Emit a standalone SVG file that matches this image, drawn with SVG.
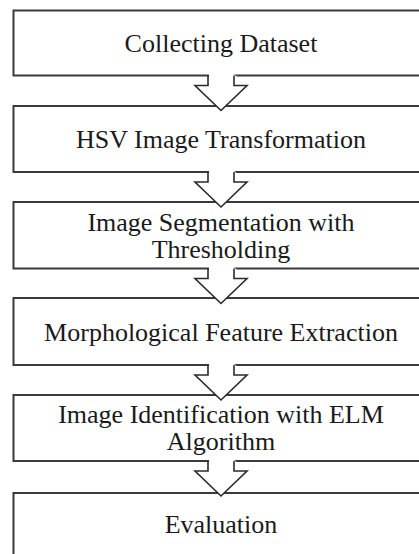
<svg xmlns="http://www.w3.org/2000/svg" width="419" height="554" viewBox="0 0 419 554">
  <defs>
    <style>
      .box { fill: #ffffff; stroke: #3a3a3a; stroke-width: 2; }
      .lbl { font-family: 'Liberation Serif', 'Times New Roman', 'DejaVu Serif', serif; font-size: 26px; fill: #1a1a1a; text-anchor: middle; }
      .arr { fill: none; stroke: #2a2a2a; stroke-width: 1.6; stroke-linejoin: miter; }
      .cover { fill: #ffffff; stroke: none; }
    </style>
  </defs>
  <rect x="0" y="0" width="419" height="554" fill="#ffffff"/>

  <g id="n1">
    <rect class="box" x="13.5" y="10.5" width="430" height="65"/>
    <text class="lbl" font-family="Liberation Serif, serif" x="221" y="52">Collecting Dataset</text>
  </g>
  <g id="n2">
    <rect class="box" x="13.5" y="106" width="430" height="66"/>
    <text class="lbl" font-family="Liberation Serif, serif" x="221" y="148">HSV Image Transformation</text>
  </g>
  <g id="n3">
    <rect class="box" x="13.5" y="202" width="430" height="66.5"/>
    <text class="lbl" font-family="Liberation Serif, serif" x="221" y="231">Image Segmentation with</text>
    <text class="lbl" font-family="Liberation Serif, serif" x="221" y="258">Thresholding</text>
  </g>
  <g id="n4">
    <rect class="box" x="13.5" y="298" width="430" height="67"/>
    <text class="lbl" font-family="Liberation Serif, serif" x="221" y="341">Morphological Feature Extraction</text>
  </g>
  <g id="n5">
    <rect class="box" x="13.5" y="395" width="430" height="66"/>
    <text class="lbl" font-family="Liberation Serif, serif" x="221" y="423">Image Identification with ELM</text>
    <text class="lbl" font-family="Liberation Serif, serif" x="221" y="450">Algorithm</text>
  </g>
  <g id="n6">
    <rect class="box" x="13.5" y="493" width="430" height="80"/>
    <text class="lbl" font-family="Liberation Serif, serif" x="221" y="533">Evaluation</text>
  </g>

  <g id="connectors">
    <g transform="translate(0,75.5)">
      <polygon class="cover" points="209,-2 209,10 195,10 221,35 247,10 233,-2"/>
      <path class="arr" d="M208,0 L208,10 L195,10 L221,35 L247,10 L234,10 L234,0"/>
    </g>
    <g transform="translate(0,172)">
      <polygon class="cover" points="209,-2 209,10 195,10 221,35 247,10 233,-2"/>
      <path class="arr" d="M208,0 L208,10 L195,10 L221,35 L247,10 L234,10 L234,0"/>
    </g>
    <g transform="translate(0,268.5)">
      <polygon class="cover" points="209,-2 209,10 195,10 221,35 247,10 233,-2"/>
      <path class="arr" d="M208,0 L208,10 L195,10 L221,35 L247,10 L234,10 L234,0"/>
    </g>
    <g transform="translate(0,365)">
      <polygon class="cover" points="209,-2 209,10 195,10 221,35 247,10 233,-2"/>
      <path class="arr" d="M208,0 L208,10 L195,10 L221,35 L247,10 L234,10 L234,0"/>
    </g>
    <g transform="translate(0,461)">
      <polygon class="cover" points="209,-2 209,10 195,10 221,35 247,10 233,-2"/>
      <path class="arr" d="M208,0 L208,10 L195,10 L221,35 L247,10 L234,10 L234,0"/>
    </g>
  </g>
</svg>
